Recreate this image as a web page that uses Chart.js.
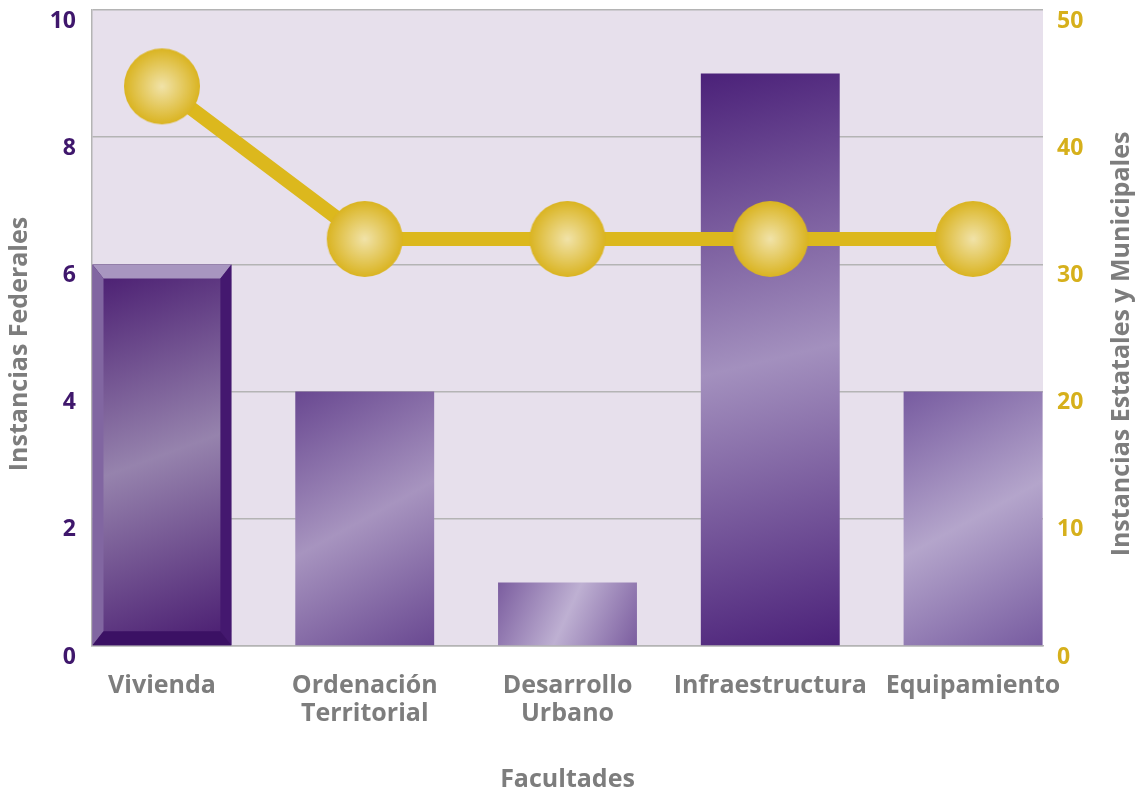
<!DOCTYPE html>
<html>
<head>
<meta charset="utf-8">
<script src="https://cdn.jsdelivr.net/npm/chart.js@4/dist/chart.umd.min.js"></script>
<style>
  html, body { margin: 0; padding: 0; background: #fff; }
  #wrap { width: 1143px; height: 796px; position: relative; }
</style>
</head>
<body>
<div id="wrap"><canvas id="chart"></canvas></div>
<script>
// data
var categories = ['Vivienda', 'Ordenación Territorial', 'Desarrollo Urbano', 'Infraestructura', 'Equipamiento'];
var federales = [6, 4, 1, 9, 4];          // left axis, bars
var estatales = [44, 32, 32, 32, 32];     // right axis, line
var leftTicks = [0, 2, 4, 6, 8, 10];
var rightTicks = [0, 10, 20, 30, 40, 50];

// bar gradient colours (ends / middle) and which bar gets the bevel look
var barEnds = ['#47196f', '#694891', '#7b5d9f', '#4b2179', '#775ba0'];
var barMids = ['#9683ad', '#a794bf', '#beb0d2', '#a390be', '#b4a5cb'];
var beveled = [true, false, false, false, false];

var fontFamily = '"Open Sans", "DejaVu Sans", sans-serif';
var gray = '#7d7d7d';

// yellow ball used as point style
function makeBall(r) {
    var c = document.createElement('canvas');
    c.width = c.height = r * 2 + 2;
    var g = c.getContext('2d');
    var grad = g.createRadialGradient(r + 1, r + 1, 0, r + 1, r + 1, r);
    grad.addColorStop(0, '#f1e3a9');
    grad.addColorStop(1, '#dab421');
    g.fillStyle = grad;
    g.beginPath();
    g.arc(r + 1, r + 1, r, 0, Math.PI * 2);
    g.fill();
    return c;
}
var ball = makeBall(38);

function barGradient(context) {
    var chart = context.chart;
    if (!chart.chartArea) return barMids[context.dataIndex];
    var i = context.dataIndex;
    var xs = chart.scales.x, ys = chart.scales.y;
    var cx = xs.getPixelForValue(i);
    var w = (xs.getPixelForValue(1) - xs.getPixelForValue(0)) * 0.685;
    var top = ys.getPixelForValue(federales[i]);
    var base = ys.getPixelForValue(0);
    var g = chart.ctx.createLinearGradient(cx - w / 2, top, cx + w / 2, base);
    g.addColorStop(0, barEnds[i]);
    g.addColorStop(0.5, barMids[i]);
    g.addColorStop(1, barEnds[i]);
    return g;
}

// lavender plot background
var plotBackground = {
    id: 'plotBackground',
    beforeDraw: function (chart) {
        var a = chart.chartArea, ctx = chart.ctx;
        ctx.save();
        ctx.fillStyle = '#e7e0ec';
        ctx.fillRect(a.left, a.top, a.right - a.left, a.bottom - a.top);
        ctx.restore();
    }
};

// bevelled frame on the first bar
var bevel = {
    id: 'bevel',
    afterDatasetDraw: function (chart, args) {
        if (args.index !== 1) return;
        var ctx = chart.ctx;
        args.meta.data.forEach(function (el, i) {
            if (!beveled[i]) return;
            var L = el.x - el.width / 2, R = el.x + el.width / 2, T = el.y, B = el.base;
            var s = 11, t = 14;
            function poly(pts, col) {
                ctx.fillStyle = col;
                ctx.beginPath();
                ctx.moveTo(pts[0][0], pts[0][1]);
                for (var k = 1; k < pts.length; k++) ctx.lineTo(pts[k][0], pts[k][1]);
                ctx.closePath();
                ctx.fill();
            }
            ctx.save();
            poly([[L, T], [R, T], [R - s, T + t], [L + s, T + t]], '#a896c0');
            poly([[L, T], [L + s, T + t], [L + s, B - t], [L, B]], '#8166a1');
            poly([[R, T], [R, B], [R - s, B - t], [R - s, T + t]], '#44186f');
            poly([[L, B], [L + s, B - t], [R - s, B - t], [R, B]], '#3b1164');
            ctx.restore();
        });
    }
};

// vertical axis titles, both reading bottom to top
var axisTitles = {
    id: 'axisTitles',
    afterDraw: function (chart) {
        var ctx = chart.ctx, a = chart.chartArea;
        var cy = (a.top + a.bottom) / 2 + 16;
        ctx.save();
        ctx.fillStyle = gray;
        ctx.font = 'bold 25px ' + fontFamily;
        ctx.textAlign = 'center';
        ctx.textBaseline = 'middle';
        [[chart.scales.y.left + 20, 'Instancias Federales'],
         [chart.scales.y2.right - 21, 'Instancias Estatales y Municipales']].forEach(function (t) {
            ctx.save();
            ctx.translate(t[0], cy);
            ctx.rotate(-Math.PI / 2);
            ctx.fillText(t[1], 0, 0);
            ctx.restore();
        });
        ctx.restore();
    }
};

var ctx = document.getElementById('chart').getContext('2d');
var chart = new Chart(ctx, {
    data: {
        datasets: [{
            type: 'line',
            label: 'Instancias Estatales y Municipales',
            data: estatales.map(function (v, i) { return { x: i, y: v }; }),
            yAxisID: 'y2',
            borderColor: '#dcb81d',
            borderWidth: 14,
            pointStyle: ball,
            pointRadius: 38,
            pointHoverRadius: 38,
            clip: false,
            order: 0
        }, {
            type: 'bar',
            label: 'Instancias Federales',
            data: federales.map(function (v, i) { return { x: i, y: v }; }),
            yAxisID: 'y',
            backgroundColor: barGradient,
            borderWidth: 0,
            barPercentage: 0.685,
            categoryPercentage: 1,
            order: 1
        }]
    },
    options: {
        responsive: true,
        maintainAspectRatio: false,
        animation: false,
        layout: { autoPadding: false, padding: { top: 10, left: 0, right: 0, bottom: 0 } },
        plugins: {
            legend: { display: false },
            tooltip: { enabled: false }
        },
        scales: {
            x: {
                type: 'linear',
                offset: false,
                min: -0.345,
                max: 4.345,
                afterBuildTicks: function (scale) {
                    scale.ticks = categories.map(function (c, i) { return { value: i }; });
                },
                afterFit: function (scale) {
                    scale.height = 150;
                    scale.paddingLeft = 0;
                    scale.paddingRight = 0;
                },
                ticks: {
                    autoSkip: false,
                    maxRotation: 0,
                    padding: 26,
                    color: gray,
                    font: { family: fontFamily, size: 25, weight: 'bold', lineHeight: 1.12 },
                    callback: function (value) { return categories[value].split(' '); }
                },
                grid: { display: false, drawTicks: false },
                border: { display: true, color: '#b4b4b4', width: 1.5 },
                title: {
                    display: true,
                    text: 'Facultades',
                    color: gray,
                    padding: { top: 0, bottom: 1 },
                    font: { family: fontFamily, size: 25, weight: 'bold', lineHeight: 1.2 }
                }
            },
            y: {
                position: 'left',
                min: 0,
                max: 10,
                afterBuildTicks: function (scale) {
                    scale.ticks = leftTicks.map(function (v) { return { value: v }; });
                },
                afterFit: function (scale) {
                    scale.width = 92;
                    scale.paddingTop = 0;
                    scale.paddingBottom = 0;
                },
                ticks: {
                    padding: 16,
                    labelOffset: 11,
                    color: '#3f176c',
                    font: { family: fontFamily, size: 23, weight: 'bold' }
                },
                grid: { color: '#b4b4b4', lineWidth: 1.5, drawTicks: false },
                border: { display: true, color: '#b4b4b4', width: 1.5 }
            },
            y2: {
                position: 'right',
                min: 0,
                max: 50,
                afterBuildTicks: function (scale) {
                    scale.ticks = rightTicks.map(function (v) { return { value: v }; });
                },
                afterFit: function (scale) {
                    scale.width = 100;
                    scale.paddingTop = 0;
                    scale.paddingBottom = 0;
                },
                ticks: {
                    padding: 14,
                    labelOffset: 11,
                    color: '#d6b01c',
                    font: { family: fontFamily, size: 23, weight: 'bold' }
                },
                grid: { display: false, drawTicks: false },
                border: { display: false }
            }
        }
    },
    plugins: [plotBackground, bevel, axisTitles]
});
</script>
</body>
</html>
